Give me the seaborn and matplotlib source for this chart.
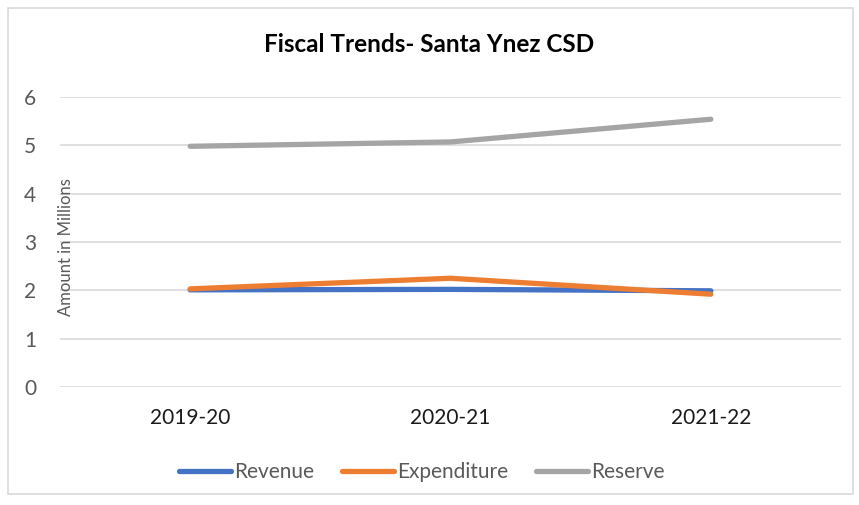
import matplotlib
matplotlib.use("Agg")
import matplotlib.pyplot as plt
import seaborn as sns
import pandas as pd
from matplotlib.patches import Rectangle
from matplotlib.lines import Line2D

years = ["2019-20", "2020-21", "2021-22"]
revenue = [2.01, 2.02, 1.99]
expenditure = [2.03, 2.25, 1.92]
reserve = [4.98, 5.07, 5.54]
series_names = ["Revenue", "Expenditure", "Reserve"]
colors = ["#4472C4", "#ED7D31", "#A5A5A5"]

df = pd.DataFrame({
    "Year": years * 3,
    "Value": revenue + expenditure + reserve,
    "Series": [s for s in series_names for _ in years],
})

sns.set_theme(style="white")
plt.rcParams["font.family"] = ["Lato", "DejaVu Sans"]

fig = plt.figure(figsize=(8.59, 5.05), dpi=100)
ax = fig.add_axes([60/859, 1-387/505, (841-60)/859, (387-97)/505])

sns.lineplot(data=df, x="Year", y="Value", hue="Series", palette=colors,
             linewidth=3.8, ax=ax, legend=False, sort=False,
             solid_capstyle="round", solid_joinstyle="miter")

ax.set_xlim(-0.5, 2.5)
ax.set_ylim(0, 6)
ax.set_yticks(range(0, 7))
ax.grid(axis="y", color="#D9D9D9", linewidth=1.2)
ax.set_axisbelow(True)
for s in ax.spines.values():
    s.set_visible(False)
ax.tick_params(axis="both", length=0, labelsize=15, pad=0)
ax.tick_params(axis="y", pad=17, colors="#595959")
ax.tick_params(axis="x", pad=15, colors="#1A1A1A")
ax.set_xlabel("")
ax.set_ylabel("")
fig.text(66/859, 1-247/505, "Amount in Millions", rotation=90, ha="center", va="center",
         fontsize=12, color="#595959")

fig.text(429/859, 1-45/505, "Fiscal Trends- Santa Ynez CSD", ha="center", va="center",
         fontsize=17.5, fontweight="bold", color="black")

handles = [Line2D([], [], color=c, linewidth=3.8, solid_capstyle="round") for c in colors]
leg = fig.legend(handles, series_names, loc="center", bbox_to_anchor=(422/859, 1-472/505),
                 ncol=3, frameon=False, fontsize=15, handlelength=2.5, handletextpad=0.15,
                 columnspacing=1.34)
for t in leg.get_texts():
    t.set_color("#595959")

fig.patches.append(Rectangle((8/859, 1-494/505), (853-8)/859, (494-8)/505, transform=fig.transFigure,
                             fill=False, edgecolor="#D9D9D9", linewidth=1.2))

fig.savefig("out.png", dpi=100)
